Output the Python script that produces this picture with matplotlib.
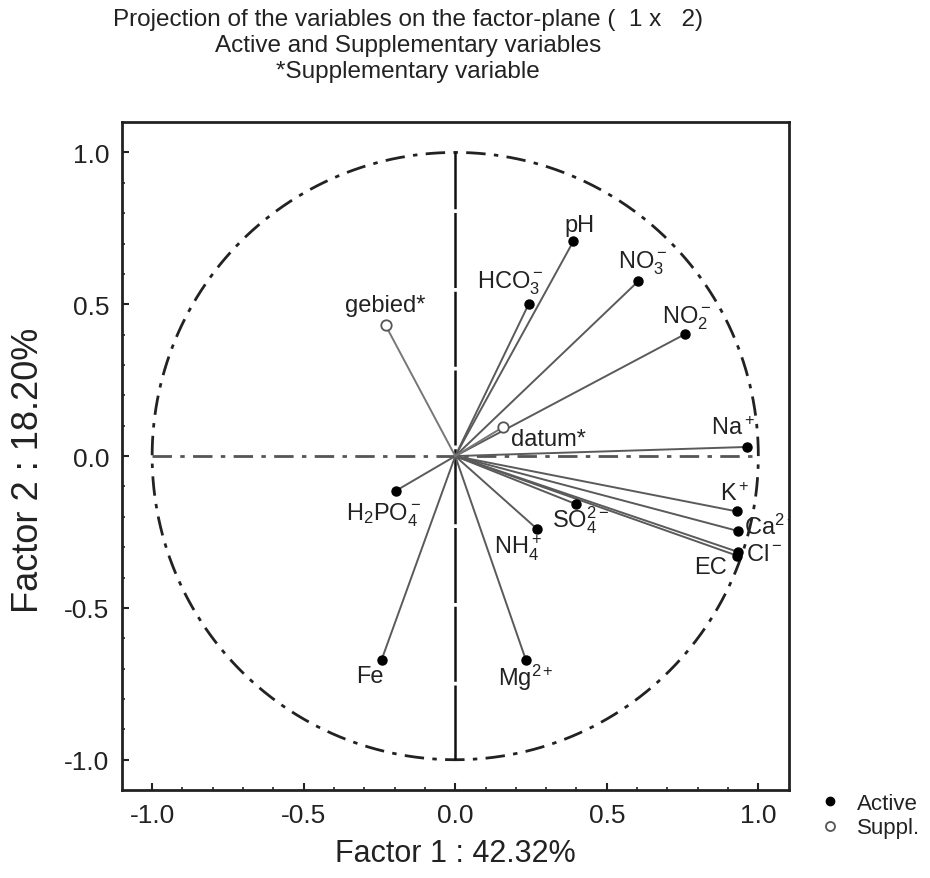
import numpy as np
import matplotlib
matplotlib.use("Agg")
import matplotlib.pyplot as plt
from matplotlib.lines import Line2D

plt.rcParams['font.family'] = ['Liberation Sans', 'DejaVu Sans']
plt.rcParams['mathtext.fontset'] = 'custom'
plt.rcParams['mathtext.rm'] = 'Liberation Sans'
plt.rcParams['mathtext.it'] = 'Liberation Sans'
plt.rcParams['mathtext.default'] = 'regular'

# Factor loadings (Factor 1, Factor 2)
active_names = ['pH', 'NO$_3^-$', 'HCO$_3^-$', 'NO$_2^-$', 'Na$^+$', 'K$^+$',
                'Ca$^{2+}$', 'Cl$^-$', 'EC', 'SO$_4^{2-}$', 'NH$_4^+$',
                'H$_2$PO$_4^-$', 'Fe', 'Mg$^{2+}$']
active_f1 = [0.390, 0.604, 0.243, 0.757, 0.961, 0.928, 0.934, 0.934, 0.930,
             0.398, 0.270, -0.197, -0.243, 0.233]
active_f2 = [0.708, 0.576, 0.502, 0.401, 0.030, -0.182, -0.247, -0.316, -0.328,
             -0.158, -0.240, -0.115, -0.671, -0.671]

suppl_names = ['gebied*', 'datum*']
suppl_f1 = [-0.230, 0.157]
suppl_f2 = [0.431, 0.095]

title_lines = ['Projection of the variables on the factor-plane (  1 x   2)',
               'Active and Supplementary variables',
               '*Supplementary variable']
xlabel = 'Factor 1 : 42.32%'
ylabel = 'Factor 2 : 18.20%'
ticks = [-1.0, -0.5, 0.0, 0.5, 1.0]

# label placement: (dx, dy) in pixels, horizontal alignment
active_pos = [(6, 16, 'center'), (4, 19, 'center'), (-19, 21, 'center'),
              (2, 17, 'center'), (-14, 19, 'center'), (-2, 18, 'center'),
              (6, 5, 'left'), (8, -2, 'left'), (-10, -11, 'right'),
              (-24, -15, 'left'), (-19, -18, 'center'), (-12, -23, 'center'),
              (-12, -16, 'center'), (0, -17, 'center')]
suppl_pos = [(0, 20, 'center'), (8, -12, 'left')]

fig = plt.figure(figsize=(9.30, 8.79), dpi=100)
ax = fig.add_axes([0.131, 0.100, 0.717, 0.760])
ax.set_xlim(-1.1, 1.1)
ax.set_ylim(-1.1, 1.1)

# unit circle and reference axes
t = np.linspace(0, 2 * np.pi, 721)
ax.plot(np.cos(t), np.sin(t), color='#222222', lw=2.0,
        linestyle=(0, (7, 3, 1.6, 3)), zorder=1)
ax.plot([-1, 1], [0, 0], color='#555555', lw=2.0,
        linestyle=(0, (7, 3, 1.6, 3)), zorder=1)
ax.plot([0, 0], [-1, 1], color='#111111', lw=1.8,
        linestyle=(0, (30, 1.5)), zorder=1)

line_col = '#5a5a5a'
for x, y in zip(active_f1, active_f2):
    ax.plot([0, x], [0, y], color=line_col, lw=1.4, zorder=2)
for x, y in zip(suppl_f1, suppl_f2):
    ax.plot([0, x], [0, y], color='#777777', lw=1.4, zorder=2)

ax.plot(active_f1, active_f2, 'o', color='black', ms=6.5, zorder=4,
        linestyle='none')
ax.plot(suppl_f1, suppl_f2, 'o', mfc='white', mec='#555555', mew=1.3,
        ms=7.5, zorder=4, linestyle='none')

lab_size = 17
for name, x, y, (dx, dy, ha) in zip(active_names, active_f1, active_f2, active_pos):
    ax.annotate(name, (x, y), xytext=(dx, dy), textcoords='offset pixels',
                ha=ha, va='center', fontsize=lab_size, color='#222222',
                zorder=5, clip_on=True)
for name, x, y, (dx, dy, ha) in zip(suppl_names, suppl_f1, suppl_f2, suppl_pos):
    ax.annotate(name, (x, y), xytext=(dx, dy), textcoords='offset pixels',
                ha=ha, va='center', fontsize=lab_size, color='#222222',
                zorder=5, clip_on=True)

ax.set_xticks(ticks)
ax.set_yticks(ticks)
ax.set_xticklabels([f'{v:.1f}' for v in ticks])
ax.set_yticklabels([f'{v:.1f}' for v in ticks])
ax.set_xticks(np.arange(-1.0, 1.01, 0.1), minor=True)
ax.set_yticks(np.arange(-1.0, 1.01, 0.1), minor=True)
ax.tick_params(which='both', direction='in', color='#222222')
ax.tick_params(which='major', length=5, width=1.5, labelsize=19, pad=9,
               labelcolor='#222222')
ax.tick_params(which='minor', length=2.5, width=1.2)
for sp in ax.spines.values():
    sp.set_linewidth(2.0)
    sp.set_color('#222222')

ax.set_xlabel(xlabel, fontsize=22, color='#222222', labelpad=8)
ax.set_ylabel(ylabel, fontsize=26, color='#222222')
ax.yaxis.set_label_coords(-76 / 667, 0.48)

for i, line in enumerate(title_lines):
    fig.text(0.439, 1 - (20 + 26 * i) / 879, line, ha='center', va='center',
             fontsize=17.5, color='#222222')

handles = [Line2D([], [], marker='o', color='black', ms=6, linestyle='none'),
           Line2D([], [], marker='o', mfc='white', mec='#555555', mew=1.3,
                  ms=6.5, linestyle='none')]
fig.legend(handles, ['Active', 'Suppl.'], loc='upper left',
           bbox_to_anchor=(808 / 930, 1 - 783 / 879), frameon=False,
           fontsize=16, handlelength=1.0, handletextpad=0.7,
           labelspacing=0.15, borderpad=0, labelcolor='#222222')

fig.savefig('out.png', dpi=100, facecolor='white')
